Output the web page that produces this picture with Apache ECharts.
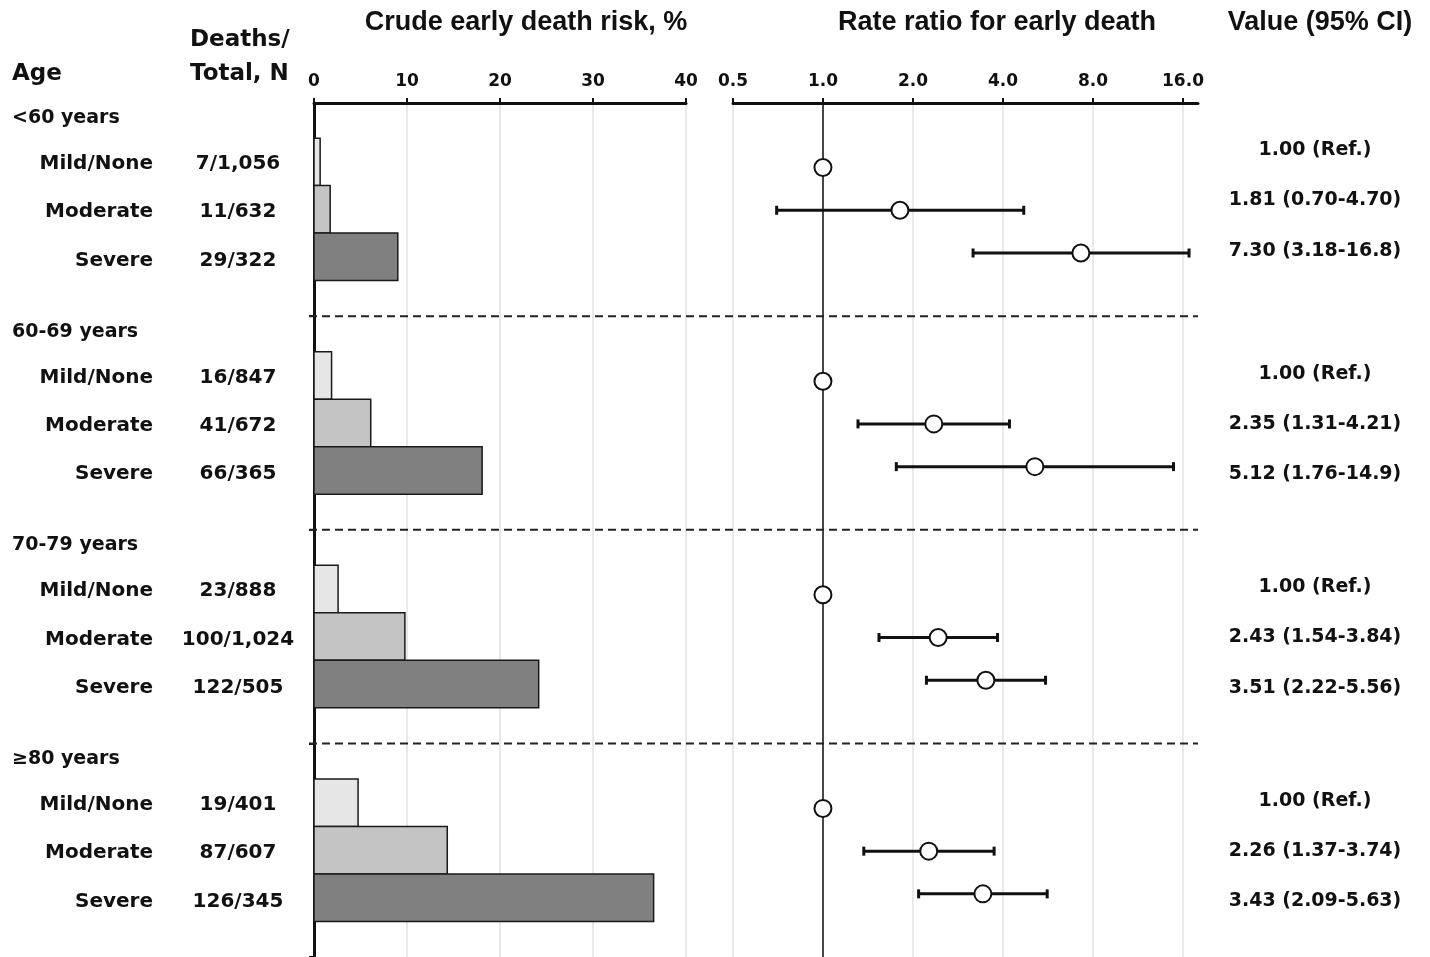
<!DOCTYPE html>
<html>
<head>
<meta charset="utf-8">
<script src="https://cdn.jsdelivr.net/npm/echarts@6/dist/echarts.min.js"></script>
<style>
  html, body { margin: 0; padding: 0; background: #fff; }
  #chart { width: 1430px; height: 957px; }
</style>
</head>
<body>
<div id="chart"></div>
<script>
// ---- data ----
const ageGroups = ['<60 years', '60-69 years', '70-79 years', '≥80 years'];
const severity = ['Mild/None', 'Moderate', 'Severe'];
const deathsTotal = [
  ['7/1,056', '11/632', '29/322'],
  ['16/847', '41/672', '66/365'],
  ['23/888', '100/1,024', '122/505'],
  ['19/401', '87/607', '126/345']
];
// crude early death risk, %
const crudeRisk = [
  [0.66, 1.74, 9.01],
  [1.89, 6.10, 18.08],
  [2.59, 9.77, 24.16],
  [4.74, 14.33, 36.52]
];
// rate ratio with 95% CI (reference rows have no interval)
const rateRatio = [
  [1.00, 1.81, 7.30],
  [1.00, 2.35, 5.12],
  [1.00, 2.43, 3.51],
  [1.00, 2.26, 3.43]
];
const ciLower = [
  [null, 0.70, 3.18],
  [null, 1.31, 1.76],
  [null, 1.54, 2.22],
  [null, 1.37, 2.09]
];
const ciUpper = [
  [null, 4.70, 16.8],
  [null, 4.21, 14.9],
  [null, 3.84, 5.56],
  [null, 3.74, 5.63]
];
const valueLabels = [
  ['1.00 (Ref.)', '1.81 (0.70-4.70)', '7.30 (3.18-16.8)'],
  ['1.00 (Ref.)', '2.35 (1.31-4.21)', '5.12 (1.76-14.9)'],
  ['1.00 (Ref.)', '2.43 (1.54-3.84)', '3.51 (2.22-5.56)'],
  ['1.00 (Ref.)', '2.26 (1.37-3.74)', '3.43 (2.09-5.63)']
];
const riskTicks = [0, 10, 20, 30, 40];
const ratioTicks = [0.5, 1, 2, 4, 8, 16];

// ---- row layout (vertical units: one bar height) ----
const GROUP_SPAN = 4.5;
const barPos = (g, r) => g * GROUP_SPAN + r;
const forestPos = (g, r) => g * GROUP_SPAN + 0.12 + r * 0.9;
const labelPos = (g, r) => g * GROUP_SPAN + 0.04 + r * 1.02;
const valuePos = (g, r) => g * GROUP_SPAN + (g === 0 ? -0.25 : -0.04) + r * 1.06;
const headerPos = g => g * GROUP_SPAN - 0.92;
const sepPos = g => g * GROUP_SPAN + 3.25;

const Y_MIN = -1.24, Y_MAX = 16.75;
const GRID_TOP = 103, GRID_H = 854;
const INK = '#111';
const BODY_FONT = '"DejaVu Sans", "Liberation Sans", sans-serif';
const TITLE_FONT = '"Liberation Sans", Arial, sans-serif';
const barFills = ['#e6e6e6', '#c4c4c4', '#808080'];

const rowAxis = (gridIndex, extra) => Object.assign({
  type: 'value', gridIndex, inverse: true, min: Y_MIN, max: Y_MAX, show: false
}, extra || {});

// ---- series data built from the arrays ----
const barData = [];
const pointData = [];
const ciData = [];
ageGroups.forEach((_, g) => {
  severity.forEach((_, r) => {
    barData.push({ value: [crudeRisk[g][r], barPos(g, r)], fill: barFills[r] });
    pointData.push([rateRatio[g][r], forestPos(g, r)]);
    if (ciLower[g][r] != null) ciData.push([ciLower[g][r], ciUpper[g][r], forestPos(g, r)]);
  });
});

// text cells of the table columns (x in page pixels, y in row units)
const textCells = [];
ageGroups.forEach((name, g) => {
  textCells.push({ x: 12, v: headerPos(g), text: name, align: 'left', size: 19 });
  severity.forEach((sev, r) => {
    textCells.push({ x: 153, v: labelPos(g, r), text: sev, align: 'right', size: 20 });
    textCells.push({ x: 238, v: labelPos(g, r), text: deathsTotal[g][r], align: 'center', size: 20 });
    textCells.push({ x: 1315, v: valuePos(g, r), text: valueLabels[g][r], align: 'center', size: 19 });
  });
});
const separators = [0, 1, 2].map(g => [0, sepPos(g)]);

const chart = echarts.init(document.getElementById('chart'), null, { renderer: 'canvas' });

const tickLabelStyle = {
  color: INK, fontFamily: BODY_FONT, fontWeight: 'bold', fontSize: 17, margin: 13
};

chart.setOption({
  animation: false,
  backgroundColor: '#fff',
  grid: [
    { left: 314, top: GRID_TOP, width: 372, height: GRID_H },   // crude risk bars
    { left: 733, top: GRID_TOP, width: 465, height: GRID_H },   // forest data (0.5 .. 18)
    { left: 733, top: GRID_TOP, width: 450, height: GRID_H },   // forest ticks (0.5 .. 16)
    { left: 0, top: GRID_TOP, width: 1430, height: GRID_H }     // table text + separators
  ],
  xAxis: [
    {
      type: 'value', gridIndex: 0, position: 'top', min: 0, max: 40, interval: 10,
      axisLine: { show: true, onZero: false, lineStyle: { color: INK, width: 3 } },
      axisTick: { show: true, inside: false, length: 5, lineStyle: { color: INK, width: 2 } },
      axisLabel: Object.assign({}, tickLabelStyle),
      splitLine: { show: true, lineStyle: { color: '#e2e2e2', width: 1.5 } }
    },
    {
      type: 'log', logBase: 2, gridIndex: 1, position: 'top', min: 0.5, max: 18,
      axisLine: { show: true, onZero: false, lineStyle: { color: INK, width: 3 } },
      axisTick: { show: false }, axisLabel: { show: false }, splitLine: { show: false }
    },
    {
      type: 'log', logBase: 2, gridIndex: 2, position: 'top', min: 0.5, max: 16,
      axisLine: { show: false, onZero: false },
      axisTick: { show: true, inside: false, length: 5, lineStyle: { color: INK, width: 2 } },
      axisLabel: Object.assign({}, tickLabelStyle, { formatter: v => Number(v).toFixed(1) }),
      splitLine: { show: true, lineStyle: { color: '#e2e2e2', width: 1.5 } }
    },
    { type: 'value', gridIndex: 3, min: 0, max: 1430, show: false }
  ],
  yAxis: [
    rowAxis(0, {
      show: true,
      axisLine: { show: true, onZero: false, lineStyle: { color: INK, width: 3 } },
      axisTick: { show: true, inside: false, length: 5, lineStyle: { color: INK, width: 2 },
                  customValues: [sepPos(0), sepPos(1), sepPos(2), Y_MAX] },
      axisLabel: { show: false }, splitLine: { show: false }
    }),
    rowAxis(1),
    rowAxis(2),
    rowAxis(3)
  ],
  graphic: [
    { type: 'text', left: 12, top: 63, style: { text: 'Age', fill: INK, font: 'bold 23px ' + BODY_FONT } },
    { type: 'text', left: 190, top: 29, style: { text: 'Deaths/', fill: INK, font: 'bold 23px ' + BODY_FONT } },
    { type: 'text', left: 190, top: 63, style: { text: 'Total, N', fill: INK, font: 'bold 23px ' + BODY_FONT } },
    { type: 'text', x: 526, y: 23, style: { text: 'Crude early death risk, %', fill: INK, font: 'bold 27px ' + TITLE_FONT, align: 'center', verticalAlign: 'middle' } },
    { type: 'text', x: 997, y: 23, style: { text: 'Rate ratio for early death', fill: INK, font: 'bold 27px ' + TITLE_FONT, align: 'center', verticalAlign: 'middle' } },
    { type: 'text', x: 1320, y: 23, style: { text: 'Value (95% CI)', fill: INK, font: 'bold 27px ' + TITLE_FONT, align: 'center', verticalAlign: 'middle' } }
  ],
  series: [
    {
      // crude risk bars
      type: 'custom', xAxisIndex: 0, yAxisIndex: 0,
      encode: { x: 0, y: 1 },
      data: barData,
      renderItem: (params, api) => {
        const v = api.value(1);
        const a = api.coord([0, v - 0.5]);
        const b = api.coord([api.value(0), v + 0.5]);
        return {
          type: 'rect',
          shape: { x: a[0], y: a[1], width: b[0] - a[0], height: b[1] - a[1] },
          style: { fill: barData[params.dataIndex].fill, stroke: '#1a1a1a', lineWidth: 1.5 }
        };
      },
      z: 3
    },
    {
      // confidence intervals
      type: 'custom', xAxisIndex: 1, yAxisIndex: 1,
      encode: { x: [0, 1], y: 2 },
      data: ciData,
      renderItem: (params, api) => {
        const a = api.coord([api.value(0), api.value(2)]);
        const b = api.coord([api.value(1), api.value(2)]);
        const st = { stroke: INK, lineWidth: 3 };
        return {
          type: 'group',
          children: [
            { type: 'line', shape: { x1: a[0], y1: a[1], x2: b[0], y2: b[1] }, style: st },
            { type: 'line', shape: { x1: a[0], y1: a[1] - 4.5, x2: a[0], y2: a[1] + 4.5 }, style: st },
            { type: 'line', shape: { x1: b[0], y1: b[1] - 4.5, x2: b[0], y2: b[1] + 4.5 }, style: st }
          ]
        };
      },
      z: 4
    },
    {
      // rate ratio point estimates and the null line
      type: 'scatter', xAxisIndex: 1, yAxisIndex: 1,
      data: pointData,
      symbol: 'circle', symbolSize: 17,
      itemStyle: { color: '#fff', borderColor: INK, borderWidth: 2, opacity: 1 },
      markLine: {
        silent: true, symbol: 'none', label: { show: false },
        lineStyle: { color: INK, width: 1.5, type: 'solid' },
        data: [{ xAxis: 1 }]
      },
      z: 5
    },
    {
      // dashed group separators across both panels
      type: 'custom', xAxisIndex: 3, yAxisIndex: 3,
      encode: { x: 0, y: 1 },
      data: separators,
      renderItem: (params, api) => {
        const a = api.coord([309, api.value(1)]);
        const b = api.coord([1198, api.value(1)]);
        return {
          type: 'line',
          shape: { x1: a[0], y1: a[1], x2: b[0], y2: b[1] },
          style: { stroke: '#222', lineWidth: 2, lineDash: [8, 5] }
        };
      },
      z: 6
    },
    {
      // table text columns
      type: 'custom', xAxisIndex: 3, yAxisIndex: 3,
      encode: { x: 0, y: 1 },
      data: textCells.map(c => [c.x, c.v]),
      renderItem: (params, api) => {
        const c = textCells[params.dataIndex];
        const p = api.coord([c.x, c.v]);
        return {
          type: 'text', x: p[0], y: p[1],
          style: {
            text: c.text, fill: INK, align: c.align, verticalAlign: 'middle',
            fontFamily: BODY_FONT, fontWeight: 'bold', fontSize: c.size
          }
        };
      },
      z: 7
    }
  ]
});
</script>
</body>
</html>
